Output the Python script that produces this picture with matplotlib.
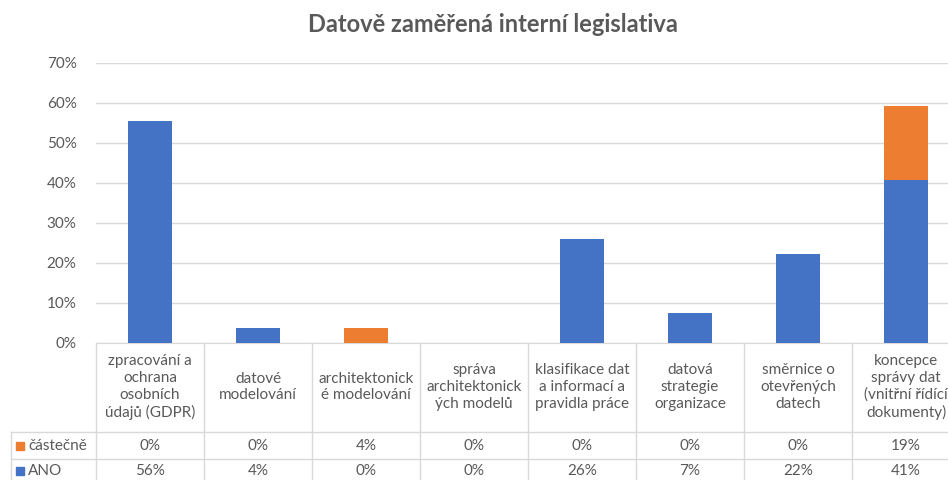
import matplotlib.pyplot as plt
from matplotlib.lines import Line2D
from matplotlib.patches import Rectangle
from matplotlib.transforms import blended_transform_factory
import numpy as np

plt.rcParams['font.family'] = ['Lato', 'DejaVu Sans']

TITLE = "Datově zaměřená interní legislativa"
categories = [
    "zpracování a\nochrana\nosobních\núdajů (GDPR)",
    "datové\nmodelování",
    "architektonick\né modelování",
    "správa\narchitektonick\ných modelů",
    "klasifikace dat\na informací a\npravidla práce",
    "datová\nstrategie\norganizace",
    "směrnice o\notevřených\ndatech",
    "koncepce\nsprávy dat\n(vnitřní řídící\ndokumenty)",
]
# share of respondents (%)
castecne = [0.0, 0.0, 3.7, 0.0, 0.0, 0.0, 0.0, 18.6]
ano = [55.6, 3.7, 0.0, 0.0, 25.9, 7.4, 22.2, 40.7]
series = [("částečně", castecne, "#ED7D31"), ("ANO", ano, "#4472C4")]
yticks = [0, 10, 20, 30, 40, 50, 60, 70]

W, H = 948, 480
TXT = "#595959"
GRID = "#D9D9D9"

fig = plt.figure(figsize=(W / 100, H / 100), dpi=100)
# plot area in pixels: x 96..960 (runs past the right edge), y 63..343
ax = fig.add_axes([96 / W, (H - 343) / H, 864 / W, 280 / H])

x = np.arange(len(categories))
ax.bar(x, ano, width=0.41, color="#4472C4", zorder=3)
ax.bar(x, castecne, width=0.41, bottom=ano, color="#ED7D31", zorder=3)

ax.set_xlim(-0.5, len(categories) - 0.5)
ax.set_ylim(0, 70)
ax.set_yticks(yticks)
ax.set_yticklabels([f"{t}%" for t in yticks], color=TXT, fontsize=11)
ax.tick_params(axis="y", length=0, pad=14)
ax.set_xticks([])
ax.grid(axis="y", color=GRID, linewidth=1, zorder=0)
for s in ["top", "right", "left"]:
    ax.spines[s].set_visible(False)
ax.spines["bottom"].set_color(GRID)

fig.text(493 / W, 1 - 25 / H, TITLE, ha="center", va="center",
         fontsize=17, fontweight="bold", color=TXT)

# data table under the plot
tr = blended_transform_factory(ax.transData, fig.transFigure)
def fy(py):
    return 1 - py / H

y_head_bot, y_row1_bot, y_bot = 432, 459, 490
# vertical lines
for i in range(len(categories) + 1):
    xv = i - 0.5
    fig.add_artist(Line2D([xv, xv], [fy(343), fy(y_bot)], transform=tr,
                          color=GRID, linewidth=1, clip_on=False))
# legend column left border
fig.add_artist(Line2D([11 / W, 11 / W], [fy(y_head_bot), fy(y_bot)],
                      color=GRID, linewidth=1))
for yh in [y_head_bot, y_row1_bot]:
    fig.add_artist(Line2D([11 / W, 1.02], [fy(yh), fy(yh)],
                          color=GRID, linewidth=1))

for i, cat in enumerate(categories):
    fig.text(i, fy(387), cat, transform=tr, ha="center", va="center",
             fontsize=11, color=TXT, linespacing=1.25)

rows_y = [446, 471]
for (name, vals, col), ry in zip(series, rows_y):
    fig.add_artist(Rectangle((16 / W, fy(ry + 4)), 8 / W, 8 / H, color=col))
    fig.text(28 / W, fy(ry), name, ha="left", va="center", fontsize=11, color=TXT)
    for i, v in enumerate(vals):
        fig.text(i, fy(ry), f"{v:.0f}%", transform=tr, ha="center",
                 va="center", fontsize=11, color=TXT)

fig.savefig("out.png", dpi=100)
